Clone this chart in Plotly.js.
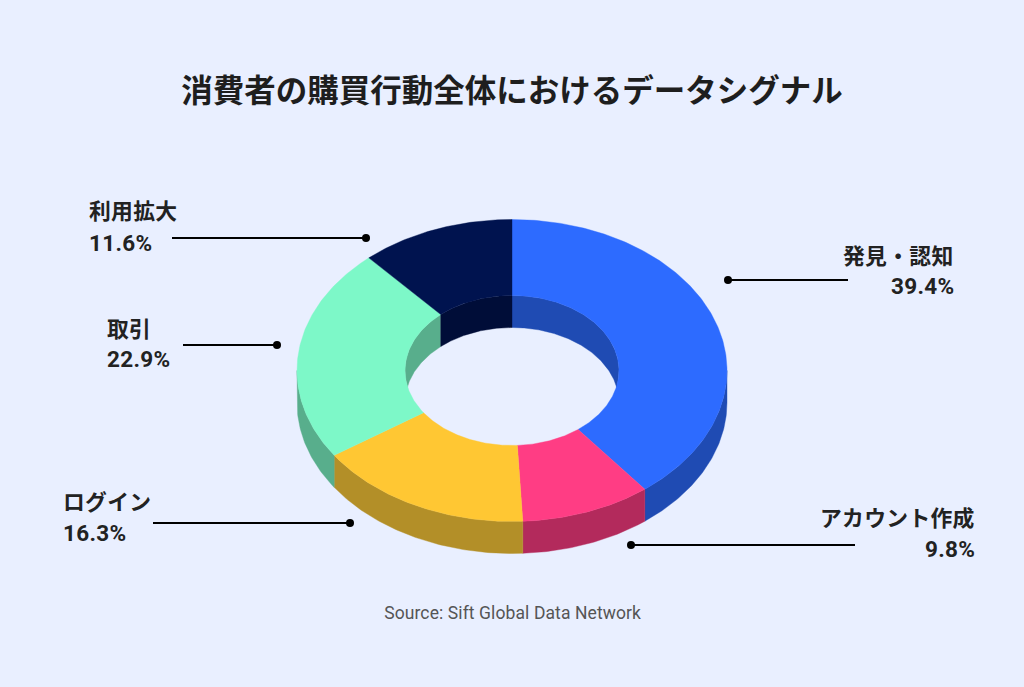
<!DOCTYPE html>
<html><head><meta charset="utf-8">
<script src="https://cdn.plot.ly/plotly-3.0.1.min.js"></script>
<style>html,body{margin:0;padding:0;background:#E9EFFF}
text.annotation-text{letter-spacing:.3px}
.annotation:last-child text.annotation-text{letter-spacing:.1px}</style></head>
<body><div id="chart" style="width:1024px;height:687px"></div>
<script>
const categories = ["発見・認知","アカウント作成","ログイン","取引","利用拡大"];
const shares = [39.4, 9.8, 16.3, 22.9, 11.6];
const topColors = ["#2D6BFF","#FF3D84","#FFC733","#7DF8C8","#00134F"];
const wallColors = ["#1F4BB3","#B32A5C","#B38F28","#58AE8C","#000D38"];

const W=1024,H=687,BG="#E9EFFF",INK="#222222";
const CX=512,CY=370.5,RX=215,RY=151,IX=107,IY=75,DEPTH=32;
const CJK='Roboto, "Noto Sans CJK JP", sans-serif';
const rad=d=>d*Math.PI/180;
const sweep=(a,b)=>{const n=Math.max(2,Math.ceil((b-a)/0.75));const o=[];for(let i=0;i<=n;i++)o.push(a+(b-a)*i/n);return o;};
const px=(t,r)=>CX+r*Math.sin(rad(t));
const py=(t,r)=>CY-r*Math.cos(rad(t));
const poly=(xs,ys,c)=>({type:'scatter',mode:'lines',x:xs.concat(xs[0]),y:ys.concat(ys[0]),fill:'toself',fillcolor:c,
  line:{color:c,width:0.4},hoverinfo:'skip',showlegend:false});

const total=shares.reduce((a,b)=>a+b,0);
let acc=0;
const spans=shares.map(v=>{const s=[acc/total*360,(acc+v)/total*360];acc+=v;return s;});
const traces=[];

// outer side wall: visible only on the front half
spans.forEach(([a,b],i)=>{
  const lo=Math.max(a,90),hi=Math.min(b,270);
  if(lo>=hi)return;
  const t=sweep(lo,hi),r=t.slice().reverse();
  traces.push(poly(t.map(d=>px(d,RX)).concat(r.map(d=>px(d,RX))),
                   t.map(d=>py(d,RY)).concat(r.map(d=>py(d,RY)+DEPTH)),wallColors[i]));
});

// inner side wall: visible on the back, down to where the rim and the lower rim cross
const lim=Math.acos(-(DEPTH/2)/IY)*180/Math.PI;
const lowerRim=x=>CY+DEPTH-IY*Math.sqrt(Math.max(0,1-Math.pow((x-CX)/IX,2)));
spans.forEach(([a,b],i)=>{
  [[0,lim],[360-lim,360]].forEach(([p,q])=>{
    const lo=Math.max(a,p),hi=Math.min(b,q);
    if(lo>=hi)return;
    const t=sweep(lo,hi),r=t.slice().reverse();
    traces.push(poly(t.map(d=>px(d,IX)).concat(r.map(d=>px(d,IX))),
                     t.map(d=>py(d,IY)).concat(r.map(d=>lowerRim(px(d,IX)))),wallColors[i]));
  });
});

// top faces
spans.forEach(([a,b],i)=>{
  const t=sweep(a,b),r=t.slice().reverse();
  traces.push(poly(t.map(d=>px(d,RX)).concat(r.map(d=>px(d,IX))),
                   t.map(d=>py(d,RY)).concat(r.map(d=>py(d,IY))),topColors[i]));
});

// leader lines: [dot x, far x, y]
const leaders=[[728,848,280],[631,855,545],[350,153,523],[277,183,345],[366,172,238]];
leaders.forEach(([dx,fx,y])=>{
  traces.push({type:'scatter',mode:'lines',x:[dx,fx],y:[y,y],line:{color:'#000000',width:1.8},hoverinfo:'skip',showlegend:false});
  traces.push({type:'scatter',mode:'markers',x:[dx],y:[y],marker:{color:'#000000',size:8},hoverinfo:'skip',showlegend:false});
});

// label anchors: [x, anchor, name y, value y]
const labelPos=[[955.5,'right',256,286],[976.5,'right',518,549],[60.5,'left',502,533],[105,'left',329,359],[87,'left',211,243]];
const annotations=[];
categories.forEach((c,i)=>{
  const [x,al,y1,y2]=labelPos[i];
  annotations.push({x,y:y1,text:c,xanchor:al,yanchor:'middle',showarrow:false,font:{family:CJK,size:21.8,color:INK,weight:700}});
  annotations.push({x,y:y2,text:shares[i].toFixed(1)+'%',xanchor:al,yanchor:'middle',showarrow:false,font:{family:CJK,size:22.5,color:INK,weight:700}});
});
annotations.push({x:512.5,y:613,text:'Source: Sift Global Data Network',xanchor:'center',yanchor:'middle',showarrow:false,
  font:{family:'Roboto, sans-serif',size:17.5,color:'#555555'}});

const layout={width:W,height:H,margin:{l:0,r:0,t:0,b:0},paper_bgcolor:BG,plot_bgcolor:BG,showlegend:false,
  title:{text:'消費者の購買行動全体におけるデータシグナル',x:0.5,xanchor:'center',y:1-91/H,yanchor:'middle',
    font:{family:'"Noto Sans CJK JP", sans-serif',size:31.5,color:'#1E1E1E',weight:700}},
  xaxis:{range:[0,W],visible:false,fixedrange:true},
  yaxis:{range:[H,0],visible:false,fixedrange:true},
  annotations};
Plotly.newPlot('chart',traces,layout,{displayModeBar:false,staticPlot:true});
</script></body></html>
